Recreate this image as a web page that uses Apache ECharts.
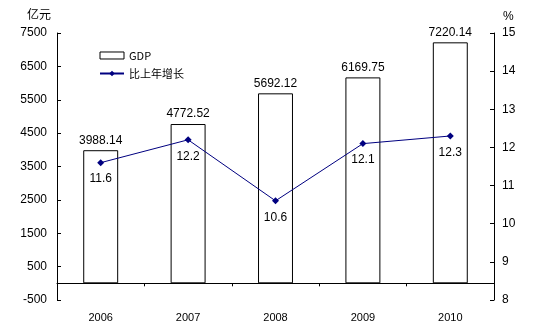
<!DOCTYPE html>
<html>
<head>
<meta charset="utf-8">
<script src="https://cdn.jsdelivr.net/npm/echarts@6/dist/echarts.min.js"></script>
<style>
  html, body { margin: 0; padding: 0; background: #fff; }
  #chart { width: 540px; height: 327px; }
</style>
</head>
<body>
<div id="chart"></div>
<script>
// GDP (亿元) and year-on-year growth (%), 2006–2010
const years = ['2006', '2007', '2008', '2009', '2010'];
const gdpValues = [3988.14, 4772.52, 5692.12, 6169.75, 7220.14];
const growthValues = [11.6, 12.2, 10.6, 12.1, 12.3];

const FONT = '"Liberation Sans Narrow", "Arial Narrow", "Liberation Sans", Arial, sans-serif';
const CJK = '"Noto Sans CJK SC", "Liberation Sans", sans-serif';

const chart = echarts.init(document.getElementById('chart'), null, { renderer: 'canvas' });

chart.setOption({
  animation: false,
  backgroundColor: '#ffffff',
  textStyle: { fontFamily: FONT, color: '#000' },
  grid: { left: 57, right: 46, top: 33, bottom: 27 },
  legend: {
    orient: 'vertical',
    left: 99,
    top: 50,
    padding: 0,
    itemGap: 7,
    itemWidth: 24,
    itemHeight: 7,
    textStyle: { fontFamily: CJK, fontSize: 11, color: '#000' },
    data: [
      { name: 'GDP', icon: 'rect', itemStyle: { color: '#fff', borderColor: '#000', borderWidth: 1 } },
      { name: '比上年增长' }
    ]
  },
  graphic: [
    { type: 'text', left: 27, top: 8, style: { text: '亿元', font: '12px ' + CJK, fill: '#000' } },
    { type: 'text', left: 503, top: 11, style: { text: '%', font: '12px ' + FONT, fill: '#000' } }
  ],
  xAxis: {
    type: 'category',
    data: years,
    axisLine: { onZero: true, onZeroAxisIndex: 0, lineStyle: { color: '#000', width: 1 } },
    axisTick: { show: true, length: 3, lineStyle: { color: '#000' } },
    axisLabel: { margin: 12, fontSize: 11, color: '#000', fontFamily: FONT },
    splitLine: { show: false }
  },
  yAxis: [
    {
      type: 'value',
      min: -500,
      max: 7500,
      interval: 1000,
      axisLine: { show: true, lineStyle: { color: '#000' } },
      axisTick: { show: true, inside: true, length: 4, lineStyle: { color: '#000' } },
      axisLabel: { margin: 10, fontSize: 12, color: '#000', fontFamily: FONT, formatter: v => String(v) },
      splitLine: { show: false }
    },
    {
      type: 'value',
      min: 8,
      max: 15,
      interval: 1,
      position: 'right',
      axisLine: { show: true, lineStyle: { color: '#000' } },
      axisTick: { show: true, inside: true, length: 4, lineStyle: { color: '#000' } },
      axisLabel: { margin: 8, fontSize: 12, color: '#000', fontFamily: FONT },
      splitLine: { show: false }
    }
  ],
  series: [
    {
      name: 'GDP',
      type: 'bar',
      yAxisIndex: 0,
      data: gdpValues,
      barWidth: '40%',
      itemStyle: { color: '#fff', borderColor: '#000', borderWidth: 1 },
      label: {
        show: true,
        position: 'top',
        distance: 4,
        fontSize: 12,
        color: '#000',
        fontFamily: FONT,
        formatter: p => p.value.toFixed(2)
      },
      z: 2
    },
    {
      name: '比上年增长',
      type: 'line',
      yAxisIndex: 1,
      data: growthValues,
      symbol: 'diamond',
      symbolSize: 7,
      lineStyle: { color: '#000080', width: 1 },
      itemStyle: { color: '#000080' },
      label: {
        show: true,
        position: 'bottom',
        distance: 7,
        fontSize: 12,
        color: '#000',
        fontFamily: FONT,
        formatter: p => p.value.toFixed(1)
      },
      z: 3
    }
  ]
});
</script>
</body>
</html>
